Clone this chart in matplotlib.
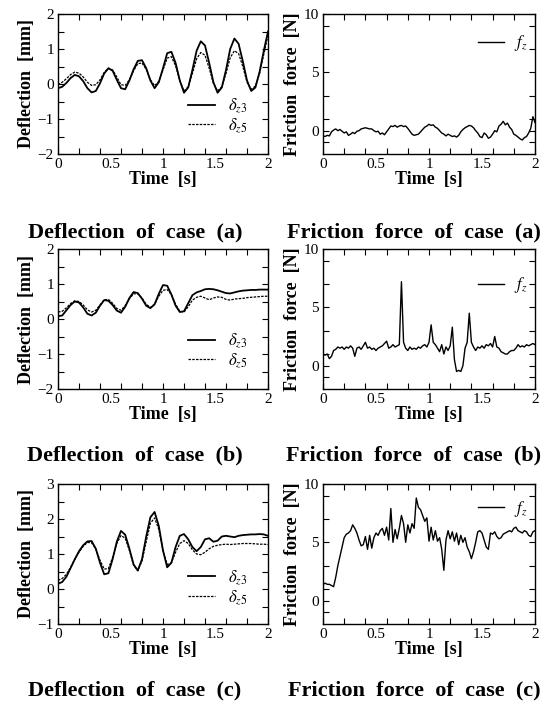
import matplotlib
matplotlib.use("Agg")
import matplotlib.pyplot as plt
import numpy as np
from matplotlib.ticker import FixedLocator, MultipleLocator

plt.rcParams['font.family'] = ['Liberation Serif', 'DejaVu Serif']
plt.rcParams['mathtext.fontset'] = 'stix'

# sample times (s)
t_defl = np.linspace(0, 2, 51)    # every 0.04 s
t_fric = np.linspace(0, 2, 101)   # every 0.02 s

# case (a): deflection [mm]
defl_a_z3 = [-0.12, -0.08, 0.03, 0.17, 0.26, 0.22, 0.08, -0.12, -0.24, -0.2,
             0.02, 0.3, 0.45, 0.38, 0.12, -0.12, -0.15, 0.1, 0.42, 0.66,
             0.68, 0.45, 0.1, -0.12, 0.05, 0.45, 0.88, 0.92, 0.6, 0.1,
             -0.25, -0.1, 0.4, 0.95, 1.22, 1.1, 0.6, 0.05, -0.25, -0.1,
             0.4, 1.0, 1.3, 1.15, 0.65, 0.1, -0.2, -0.1, 0.35, 0.95, 1.5]
defl_a_z5 = [-0.02, 0.05, 0.15, 0.27, 0.34, 0.31, 0.2, 0.05, -0.04, -0.02,
             0.12, 0.33, 0.45, 0.4, 0.2, -0.02, -0.04, 0.12, 0.38, 0.58,
             0.6, 0.42, 0.12, -0.05, 0.08, 0.4, 0.74, 0.78, 0.52, 0.1,
             -0.2, -0.08, 0.3, 0.72, 0.9, 0.82, 0.45, 0.02, -0.2, -0.08,
             0.3, 0.75, 0.95, 0.87, 0.5, 0.05, -0.15, -0.06, 0.3, 0.85, 1.4]

# case (b): deflection [mm]
defl_b_z3 = [0.08, 0.1, 0.25, 0.4, 0.5, 0.47, 0.33, 0.15, 0.1, 0.18,
             0.38, 0.54, 0.52, 0.4, 0.24, 0.18, 0.35, 0.6, 0.77, 0.74,
             0.58, 0.38, 0.31, 0.42, 0.72, 0.97, 0.95, 0.7, 0.38, 0.2,
             0.22, 0.45, 0.68, 0.76, 0.8, 0.85, 0.86, 0.85, 0.82, 0.78,
             0.74, 0.73, 0.76, 0.79, 0.81, 0.82, 0.83, 0.83, 0.84, 0.84, 0.84]
defl_b_z5 = [0.2, 0.22, 0.32, 0.44, 0.52, 0.5, 0.4, 0.26, 0.2, 0.25,
             0.4, 0.55, 0.56, 0.45, 0.3, 0.25, 0.38, 0.58, 0.72, 0.72,
             0.6, 0.42, 0.33, 0.42, 0.65, 0.82, 0.84, 0.7, 0.42, 0.22,
             0.2, 0.35, 0.54, 0.62, 0.65, 0.6, 0.55, 0.6, 0.63, 0.62,
             0.56, 0.54, 0.57, 0.58, 0.59, 0.61, 0.62, 0.63, 0.64, 0.65, 0.65]

# case (c): deflection [mm]
defl_c_z3 = [0.15, 0.2, 0.35, 0.6, 0.85, 1.08, 1.25, 1.36, 1.37, 1.15,
             0.75, 0.42, 0.45, 0.85, 1.35, 1.66, 1.55, 1.15, 0.7, 0.53,
             0.85, 1.5, 2.05, 2.2, 1.8, 1.1, 0.62, 0.75, 1.2, 1.52,
             1.57, 1.42, 1.2, 1.08, 1.2, 1.42, 1.45, 1.35, 1.38, 1.5,
             1.52, 1.5, 1.48, 1.52, 1.54, 1.55, 1.56, 1.56, 1.57, 1.56, 1.52]
defl_c_z5 = [0.25, 0.3, 0.42, 0.62, 0.85, 1.05, 1.22, 1.33, 1.32, 1.15,
             0.82, 0.57, 0.58, 0.9, 1.3, 1.53, 1.45, 1.1, 0.68, 0.52,
             0.8, 1.35, 1.88, 2.03, 1.7, 1.1, 0.7, 0.75, 1.05, 1.3,
             1.38, 1.3, 1.12, 1.0, 0.98, 1.05, 1.15, 1.22, 1.25, 1.27,
             1.28, 1.27, 1.28, 1.29, 1.3, 1.3, 1.3, 1.29, 1.28, 1.28, 1.27]

# friction force [N]
fric_a = [-0.45, -0.5, -0.4, -0.45, -0.1, 0.05, 0.15, 0.0, 0.1, -0.05,
          -0.2, -0.1, -0.4, -0.3, -0.15, -0.25, -0.05, 0.0, 0.15, 0.2,
          0.25, 0.2, 0.15, 0.15, 0.0, -0.1, -0.05, -0.3, -0.2, -0.35,
          -0.1, 0.15, 0.4, 0.35, 0.45, 0.3, 0.4, 0.45, 0.35, 0.4,
          0.2, -0.05, -0.3, -0.4, -0.35, -0.3, -0.1, 0.1, 0.3, 0.4,
          0.55, 0.45, 0.5, 0.3, 0.2, 0.0, -0.2, -0.3, -0.45, -0.3,
          -0.4, -0.5, -0.45, -0.55, -0.4, -0.1, 0.1, 0.25, 0.35, 0.45,
          0.4, 0.25, 0.0, -0.2, -0.5, -0.6, -0.2, -0.35, -0.65, -0.55,
          -0.3, 0.0, -0.1, 0.4, 0.55, 0.8, 0.5, 0.65, 0.3, 0.1,
          -0.3, -0.4, -0.55, -0.7, -0.8, -0.6, -0.5, -0.2, 0.2, 1.2, 0.7]
fric_b = [1.0, 0.9, 1.0, 0.6, 0.8, 1.3, 1.4, 1.6, 1.5, 1.6,
          1.4, 1.6, 1.5, 1.7, 1.5, 0.8, 1.5, 1.6, 1.4, 1.7,
          2.0, 1.5, 1.6, 1.4, 1.5, 1.3, 1.5, 1.6, 1.7, 1.9,
          2.1, 1.5, 1.6, 1.8, 1.6, 1.7, 1.8, 7.2, 2.0, 1.5,
          1.3, 1.6, 1.4, 1.5, 1.4, 1.6, 1.5, 1.7, 1.8, 1.6,
          2.0, 3.5, 2.0, 1.8, 1.5, 1.2, 1.8, 1.0, 1.6, 1.3,
          1.7, 3.3, 0.5, -0.5, -0.4, -0.5, 0.0, 1.5, 2.0, 4.5,
          2.0, 1.6, 1.3, 1.6, 1.5, 1.7, 1.5, 1.8, 1.7, 1.9,
          1.6, 2.5, 1.6, 1.5, 1.2, 1.1, 1.0, 1.0, 1.2, 1.3,
          1.3, 1.5, 1.8, 1.6, 1.7, 1.6, 1.8, 1.7, 1.8, 1.9, 1.8]
fric_c = [1.4, 1.5, 1.4, 1.4, 1.3, 1.2, 2.0, 3.0, 3.8, 4.6,
          5.4, 5.7, 5.8, 6.0, 6.5, 6.2, 5.8, 5.2, 4.7, 4.8,
          5.5, 4.4, 5.6, 4.5, 5.4, 5.8, 5.6, 6.0, 6.2, 5.6,
          6.3, 5.2, 7.9, 5.0, 6.1, 5.3, 6.2, 7.3, 6.6, 5.0,
          6.5, 5.8, 6.6, 6.2, 8.8, 8.0, 7.8, 7.3, 6.8, 7.1,
          5.1, 6.3, 5.2, 6.0, 5.1, 5.4, 4.4, 2.6, 5.2, 6.0,
          5.3, 5.9, 5.1, 5.8, 4.8, 5.6, 5.0, 5.4, 4.6, 4.2,
          3.6, 4.2, 5.0, 5.9, 6.0, 5.8, 5.2, 4.6, 4.4, 5.8,
          5.7, 5.9, 5.5, 5.3, 5.4, 5.7, 5.8, 5.9, 6.0, 5.9,
          6.2, 6.3, 6.0, 5.9, 5.8, 6.0, 5.9, 5.6, 5.5, 5.9, 6.0]

cases = ['a', 'b', 'c']
defl_ylims = [(-2, 2), (-2, 2), (-1, 3)]
defl_z3 = [defl_a_z3, defl_b_z3, defl_c_z3]
defl_z5 = [defl_a_z5, defl_b_z5, defl_c_z5]
fric = [fric_a, fric_b, fric_c]

W, H = 552, 706
fig = plt.figure(figsize=(W / 100, H / 100), dpi=100)

row_top = [14, 249, 484]
caption_y = [232, 455, 690]
ax_h = 140
leg_left_y = [0.27, 0.27, 0.26]
leg_right_y = [0.79, 0.74, 0.82]


def style_axes(ax):
    ax.set_xlim(0, 2)
    ax.set_xticks([0, 0.5, 1, 1.5, 2])
    ax.set_xticklabels(['0', '0.5', '1', '1.5', '2'])
    ax.xaxis.set_minor_locator(MultipleLocator(0.2))
    ax.xaxis.remove_overlapping_locs = False
    ax.tick_params(which='both', direction='in', top=True, right=True,
                   labelsize=11, pad=3)
    ax.tick_params(axis='x', which='major', length=0)
    ax.tick_params(which='minor', length=4, width=0.8)
    ax.tick_params(axis='y', which='major', length=4, width=0.8)
    ax.set_xlabel('Time  [s]', fontsize=13, fontweight='bold', labelpad=0)
    for s in ax.spines.values():
        s.set_linewidth(1.0)


for i, c in enumerate(cases):
    top = row_top[i]
    bottom = (H - top - ax_h) / H

    # deflection panel
    ax = fig.add_axes([58 / W, bottom, 210 / W, ax_h / H])
    ax.plot(t_defl, defl_z3[i], color='black', lw=1.3, label=r'$\delta_{z3}$')
    ax.plot(t_defl, defl_z5[i], color='black', lw=0.9, ls=(0, (2, 1)),
            label=r'$\delta_{z5}$')
    style_axes(ax)
    lo, hi = defl_ylims[i]
    ax.set_ylim(lo, hi)
    ax.set_yticks(np.arange(lo, hi + 1))
    ax.set_yticklabels([str(v).replace('-', '\u2212') for v in range(lo, hi + 1)])
    ax.yaxis.set_minor_locator(MultipleLocator(0.5))
    ax.set_ylabel('Deflection  [mm]', fontsize=13, fontweight='bold', labelpad=2)
    ax.legend(loc='center left', bbox_to_anchor=(0.62, leg_left_y[i]),
              frameon=False, fontsize=12, handlelength=1.6, handletextpad=0.8,
              labelspacing=0.1, borderpad=0, borderaxespad=0)

    # friction panel
    ax2 = fig.add_axes([323 / W, bottom, 212 / W, ax_h / H])
    ax2.plot(t_fric, fric[i], color='black', lw=1.0, label=r'$f_z$')
    style_axes(ax2)
    ax2.set_ylim(-2, 10)
    ax2.set_yticks([0, 5, 10])
    ax2.yaxis.set_minor_locator(FixedLocator([-1, 1, 3, 7, 9]))
    ax2.set_ylabel('Friction  force  [N]', fontsize=13, fontweight='bold',
                   labelpad=2)
    ax2.legend(loc='center left', bbox_to_anchor=(0.73, leg_right_y[i]),
               frameon=False, fontsize=12, handlelength=1.6, handletextpad=0.6,
               borderpad=0, borderaxespad=0)

    cap_y = 1 - caption_y[i] / H
    fig.text(135 / W, cap_y, f'Deflection  of  case  ({c})', ha='center',
             va='center', fontsize=16, fontweight='bold')
    fig.text(414 / W, cap_y, f'Friction  force  of  case  ({c})', ha='center',
             va='center', fontsize=16, fontweight='bold')

fig.savefig('out.png', dpi=100)
